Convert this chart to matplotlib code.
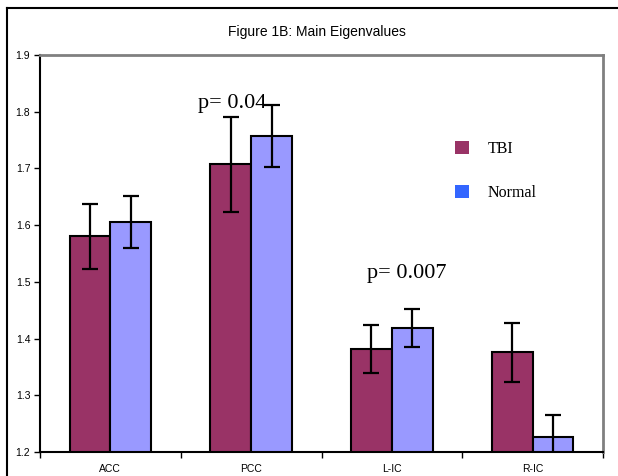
import matplotlib.pyplot as plt
from matplotlib.patches import Patch
from matplotlib.lines import Line2D
import numpy as np

# dados
regioes = ['ACC', 'PCC', 'L-IC', 'R-IC']
tbi_media = [1.580, 1.707, 1.382, 1.376]
tbi_erro = [0.057, 0.084, 0.042, 0.052]
normal_media = [1.605, 1.757, 1.419, 1.226]
normal_erro = [0.046, 0.054, 0.033, 0.040]
y_ticks = [1.2, 1.3, 1.4, 1.5, 1.6, 1.7, 1.8, 1.9]

cor_tbi = '#993366'
cor_normal = '#9999FF'
cor_normal_leg = '#3366FF'

fig = plt.figure(figsize=(6.18, 4.76), dpi=100)
W, H = 618, 476
ax = fig.add_axes([40 / W, 1 - 452 / H, (603 - 40) / W, (452 - 55) / H])

x = np.arange(len(regioes))
larg = 0.29
err_kw = dict(ecolor='black', elinewidth=1.6, capsize=6, capthick=1.6)
ax.bar(x - larg / 2, tbi_media, larg, yerr=tbi_erro, color=cor_tbi,
       edgecolor='black', linewidth=1.5, error_kw=err_kw, label='TBI')
ax.bar(x + larg / 2, normal_media, larg, yerr=normal_erro, color=cor_normal,
       edgecolor='black', linewidth=1.5, error_kw=err_kw, label='Normal')

ax.set_xlim(-0.5, len(regioes) - 0.5)
ax.set_ylim(1.2, 1.9)
ax.set_yticks(y_ticks)
ax.set_yticklabels([f'{v:.1f}' for v in y_ticks], fontsize=7.5,
                   family='Liberation Sans')
ax.tick_params(axis='y', direction='out', length=4, width=1, pad=3)

# marcas do eixo x entre as categorias, rótulos no centro
ax.set_xticks(np.arange(len(regioes) + 1) - 0.5)
ax.set_xticklabels([])
ax.tick_params(axis='x', which='major', direction='out', length=4, width=1)
ax.set_xticks(x, minor=True)
ax.set_xticklabels(regioes, minor=True, fontsize=7.5, family='Liberation Sans')
ax.tick_params(axis='x', which='minor', length=0, pad=9)

for lado in ['left', 'bottom']:
    ax.spines[lado].set_color('black')
    ax.spines[lado].set_linewidth(1.5)
for lado in ['top', 'right']:
    ax.spines[lado].set_color('#808080')
    ax.spines[lado].set_linewidth(2)

ax.text(0.623, 1.807, 'p= 0.04', fontsize=16, family='Liberation Serif')
ax.text(1.823, 1.507, 'p= 0.007', fontsize=16, family='Liberation Serif')

fig.text(317 / W, 1 - 32 / H, 'Figure 1B: Main Eigenvalues', ha='center',
         va='center', fontsize=10, family='Liberation Sans')

handles = [Patch(facecolor=cor_tbi, edgecolor='none'),
           Patch(facecolor=cor_normal_leg, edgecolor='none')]
ax.legend(handles, ['TBI', 'Normal'], loc='upper left',
          bbox_to_anchor=(455 / W, 1 - 141 / H), bbox_transform=fig.transFigure,
          frameon=False, prop={'family': 'Liberation Serif', 'size': 11.5},
          handlelength=0.85, handleheight=0.85, handletextpad=1.2,
          labelspacing=1.75, borderpad=0, borderaxespad=0)

# moldura externa do gráfico
fig.add_artist(Line2D([7 / W, 7 / W], [1 - 8 / H, 0], color='black', lw=1.5))
fig.add_artist(Line2D([7 / W, 1], [1 - 8 / H, 1 - 8 / H], color='black', lw=1.5))

plt.savefig('out.png')
